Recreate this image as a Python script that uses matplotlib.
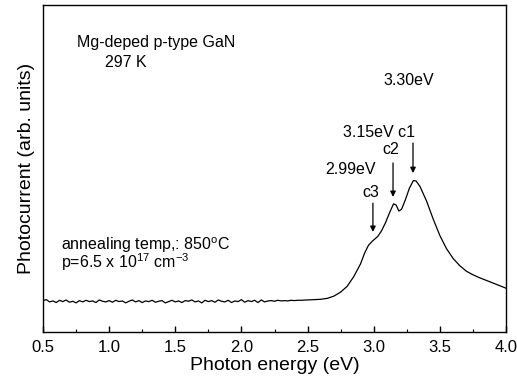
import numpy as np
import matplotlib
matplotlib.use("Agg")
import matplotlib.pyplot as plt
from matplotlib.ticker import MultipleLocator

plt.rcParams['font.family'] = ['Liberation Sans', 'DejaVu Sans']
plt.rcParams['mathtext.fontset'] = 'custom'
plt.rcParams['mathtext.rm'] = 'Liberation Sans'
plt.rcParams['mathtext.default'] = 'regular'

# Flat (noisy) baseline region
base_energy = np.arange(0.5, 2.45, 0.025)
base_signal = [9.6, 9.9, 9.2, 9.5, 9.0, 9.7, 9.3, 9.8, 9.1, 9.4, 8.9, 9.6, 9.2, 9.7, 9.3, 9.5,
               9.0, 9.8, 9.4, 9.2, 9.6, 9.1, 9.7, 9.3, 9.5, 8.9, 9.4, 9.8, 9.2, 9.6, 9.0, 9.5,
               9.3, 9.7, 9.1, 9.4, 9.6, 8.9, 9.3, 9.7, 9.2, 9.5, 9.0, 9.6, 9.4, 9.8, 9.2, 9.5,
               8.9, 9.7, 9.3, 9.6, 9.1, 9.8, 9.4, 9.2, 9.7, 9.0, 9.5, 9.3, 9.9, 9.1, 9.6, 9.3,
               9.7, 9.0, 9.8, 9.2, 9.5, 9.6, 9.4, 9.7, 9.5, 9.6, 9.5, 9.7, 9.6, 9.7, 9.7]
base_signal = base_signal[:len(base_energy)]

# Absorption edge / peak region
peak_energy = [2.45, 2.50, 2.55, 2.60, 2.65, 2.70, 2.75, 2.80, 2.85, 2.90, 2.93, 2.96, 2.99,
               3.03, 3.06, 3.09, 3.12, 3.15, 3.17, 3.19, 3.21, 3.24, 3.27, 3.30, 3.32, 3.35,
               3.40, 3.45, 3.50, 3.55, 3.60, 3.65, 3.70, 3.75, 3.80, 3.85, 3.90, 3.95, 4.00]
peak_signal = [9.7, 9.8, 9.9, 10.0, 10.3, 11.0, 12.2, 14.0, 17.0, 20.8, 24.0, 26.5, 27.8,
               29.2, 31.0, 33.5, 36.5, 39.2, 38.8, 37.0, 37.5, 40.5, 44.0, 46.3, 46.2, 44.5,
               40.0, 34.5, 29.5, 25.5, 22.5, 20.3, 18.6, 17.5, 16.6, 15.8, 15.0, 14.2, 13.4]

energy = np.concatenate([base_energy, peak_energy])
signal = np.concatenate([base_signal, peak_signal])

fig = plt.figure(figsize=(5.17, 3.85), dpi=100)
ax = fig.add_axes([43/517, 53/385, 463/517, 327/385])
ax.plot(energy, signal, color='black', lw=0.9)

ax.set_xlim(0.5, 4.0)
ax.set_ylim(0, 100)
ax.set_yticks([])
ax.xaxis.set_major_locator(MultipleLocator(0.5))
ax.xaxis.set_minor_locator(MultipleLocator(0.25))
ax.tick_params(axis='x', which='major', direction='in', length=4, width=1, labelsize=12, pad=6)
ax.tick_params(axis='x', which='minor', direction='in', length=2.5, width=0.8)
ax.xaxis.set_major_formatter(matplotlib.ticker.FormatStrFormatter('%.1f'))
for s in ax.spines.values():
    s.set_linewidth(1.0)

ax.set_xlabel('Photon energy (eV)', fontsize=14, labelpad=1)
ax.set_ylabel('Photocurrent (arb. units)', fontsize=14, labelpad=6)

fs = 11.5
ax.text(0.757, 87.2, 'Mg-deped p-type GaN', fontsize=fs, va='baseline', ha='left')
ax.text(0.969, 81.1, '297 K', fontsize=fs, va='baseline', ha='left')
ax.text(3.07, 75.5, '3.30eV', fontsize=fs, va='baseline', ha='left')
ax.text(2.767, 59.6, '3.15eV c1', fontsize=fs, va='baseline', ha='left')
ax.text(3.062, 54.4, 'c2', fontsize=fs, va='baseline', ha='left')
ax.text(2.631, 48.3, '2.99eV', fontsize=fs, va='baseline', ha='left')
ax.text(2.911, 41.4, 'c3', fontsize=fs, va='baseline', ha='left')
ax.text(0.635, 19.6, 'annealing temp,: 850$^{o}$C\np=6.5 x 10$^{17}$ cm$^{-3}$',
        fontsize=fs, va='baseline', ha='left', linespacing=0.8)

arrow_kw = dict(arrowstyle='-|>', color='black', lw=0.9, mutation_scale=8,
                shrinkA=0, shrinkB=0)
ax.annotate('', xy=(2.994, 30.6), xytext=(2.994, 39.4), arrowprops=arrow_kw)
ax.annotate('', xy=(3.146, 41.3), xytext=(3.146, 51.7), arrowprops=arrow_kw)
ax.annotate('', xy=(3.297, 48.6), xytext=(3.297, 57.8), arrowprops=arrow_kw)

fig.savefig('out.png', dpi=100)
